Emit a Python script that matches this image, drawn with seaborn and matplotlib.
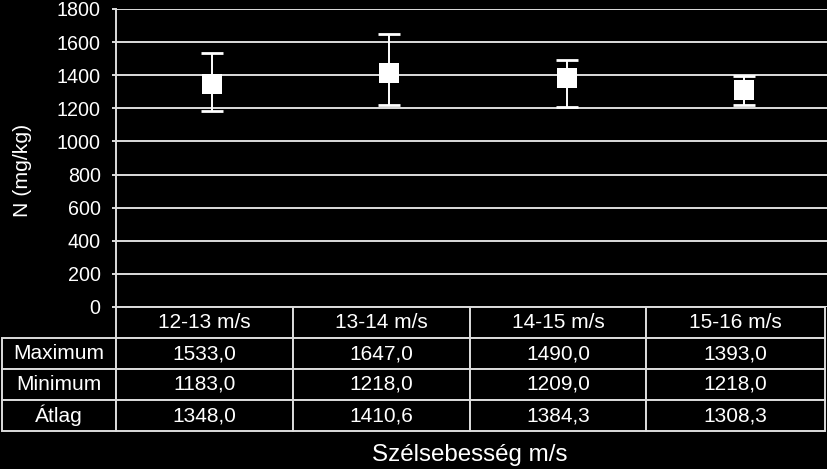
import numpy as np
import pandas as pd
import matplotlib
matplotlib.use("Agg")
import matplotlib.pyplot as plt
import seaborn as sns

categories = ["12-13 m/s", "13-14 m/s", "14-15 m/s", "15-16 m/s"]
maximum = [1533.0, 1647.0, 1490.0, 1393.0]
minimum = [1183.0, 1218.0, 1209.0, 1218.0]
atlag = [1348.0, 1410.6, 1384.3, 1308.3]
row_labels = ["Maximum", "Minimum", "Átlag"]
y_ticks = [0, 200, 400, 600, 800, 1000, 1200, 1400, 1600, 1800]

sns.set_theme(style="dark")
plt.rcParams["font.family"] = ["Liberation Sans", "DejaVu Sans"]

W, H = 828, 469
fig = plt.figure(figsize=(W / 100, H / 100), dpi=100, facecolor="black")

# chart axes: x 116..828 px, y 9..307 px
ax = fig.add_axes([116 / W, (H - 307) / H, (828 - 116) / W, (307 - 9) / H])
ax.set_facecolor("black")

df = pd.DataFrame({"pos": np.arange(len(categories)), "mean": atlag,
                   "lo": np.array(atlag) - np.array(minimum),
                   "hi": np.array(maximum) - np.array(atlag)})

ax.errorbar(df["pos"], df["mean"], yerr=[df["lo"], df["hi"]], fmt="none",
            ecolor="white", elinewidth=1.4, capsize=8, capthick=2, zorder=3)
sns.scatterplot(data=df, x="pos", y="mean", marker="s", s=190, color="white",
                edgecolor="white", linewidth=0, ax=ax, zorder=4, legend=False)

ax.set_ylim(0, 1800)
ax.set_xlim(-0.541, 3.474)
ax.set_yticks(y_ticks)
ax.set_yticklabels([str(v) for v in y_ticks], color="white", fontsize=14.2)
ax.set_xticks([])
ax.set_xlabel("")
ax.set_ylabel("N (mg/kg)", color="white", fontsize=15.3)
ax.yaxis.set_label_coords(-0.118, 0.46)
ax.grid(False)
for v in y_ticks:
    ax.axhline(v, color="#dcdcdc", lw=1.4, zorder=1)
for s in ["top", "right", "bottom"]:
    ax.spines[s].set_visible(False)
ax.spines["left"].set_color("#dcdcdc")
ax.spines["left"].set_linewidth(1.4)
ax.tick_params(axis="y", colors="#dcdcdc", length=3, width=1.4, pad=8, left=True,
               labelcolor="white")

# table axes: x 2..825 px, y 307..431 px
tax = fig.add_axes([2 / W, (H - 431) / H, (825 - 2) / W, (431 - 307) / H])
tax.set_facecolor("black")
tax.axis("off")
cell_text = [[""] + categories]
for lab, vals in zip(row_labels, [maximum, minimum, atlag]):
    cell_text.append([lab] + [f"{v:.1f}".replace(".", ",") for v in vals])
widths = np.array([114, 177, 177, 176, 179], dtype=float)
widths = widths / widths.sum()
tbl = tax.table(cellText=cell_text, colWidths=list(widths), cellLoc="center",
                bbox=[0, 0, 1, 1])
tbl.auto_set_font_size(False)
for (r, c), cell in tbl.get_celld().items():
    cell.set_facecolor("black")
    cell.set_edgecolor("#dcdcdc")
    cell.set_linewidth(1.4)
    cell.get_text().set_color("white")
    cell.get_text().set_fontsize(15)
    if c == 0:
        cell._loc = "left"
        cell.PAD = 0.09
    if r == 0 and c == 0:
        cell.visible_edges = ""

fig.text(470 / W, 1 - 455 / H, "Szélsebesség m/s", color="white", fontsize=17.4,
         ha="center", va="center")

fig.savefig("out.png", dpi=100, facecolor="black")
